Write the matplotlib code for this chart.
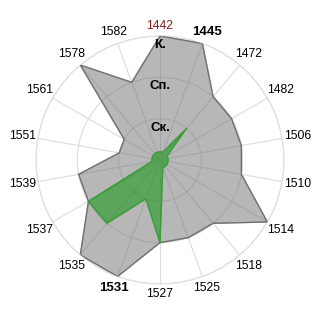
import numpy as np
import matplotlib.pyplot as plt

# categories clockwise from top
cats = ["1442", "1445", "1472", "1482", "1506", "1510", "1514", "1518", "1525",
        "1527", "1531", "1535", "1537", "1539", "1551", "1561", "1578", "1582"]
gray_vals = [3, 3, 2, 2, 2, 2, 3, 2, 2, 2, 3, 3, 2, 2, 1, 1, 3, 2]
green_vals = [0.2, 0.2, 1, 0.2, 0.2, 0.2, 0.2, 0.2, 0.2,
              2, 1, 2, 2, 0.2, 0.2, 0.2, 0.2, 0.2]
ring_labels = ["Ск.", "Сп.", "К."]

plt.rcParams['font.family'] = ['Liberation Sans', 'DejaVu Sans']

fig = plt.figure(figsize=(3.2, 3.2), dpi=100)
ax = fig.add_axes([0.1125, 0.1125, 0.775, 0.775], projection='polar')
ax.set_theta_zero_location('N')
ax.set_theta_direction(-1)

n = len(cats)
ang = np.linspace(0, 2 * np.pi, n, endpoint=False)
ang_c = np.append(ang, ang[0])

g = np.append(gray_vals, gray_vals[0])
ax.fill(ang_c, g, color='#707070', alpha=0.5, zorder=2)
ax.plot(ang_c, g, color='#707070', lw=0.9, zorder=3)

gr = np.append(green_vals, green_vals[0])
ax.fill(ang_c, gr, color='#1f9a1f', alpha=0.6, zorder=4)
ax.plot(ang_c, gr, color='#3c9c3c', lw=0.8, zorder=5)

ax.set_ylim(0, 3)
ax.set_yticks([1, 2, 3])
ax.set_yticklabels([])
ax.set_xticks(ang)
ax.set_xticklabels([])
ax.grid(color='#dcdcdc', lw=0.8)
ax.spines['polar'].set_color('#dcdcdc')
ax.spines['polar'].set_linewidth(0.8)

# category labels placed by hand just outside the outer ring
for a, c in zip(ang, cats):
    r = 3 * (134 + 6 * abs(np.sin(a))) / 124
    kw = dict(fontsize=8.7, color='black')
    if c == "1442":
        kw['color'] = '#8b1a1a'
    if c in ("1445", "1531"):
        kw['fontweight'] = 'bold'
        kw['fontsize'] = 9.5
    ax.text(a, r, c, ha='center', va='center', clip_on=False, **kw)

for r, t in zip([0.78, 1.8, 2.78], ring_labels):
    ax.text(0, r, t, ha='center', va='center', fontsize=9.5,
            fontweight='bold', zorder=6)

fig.savefig('out.png', dpi=100)
